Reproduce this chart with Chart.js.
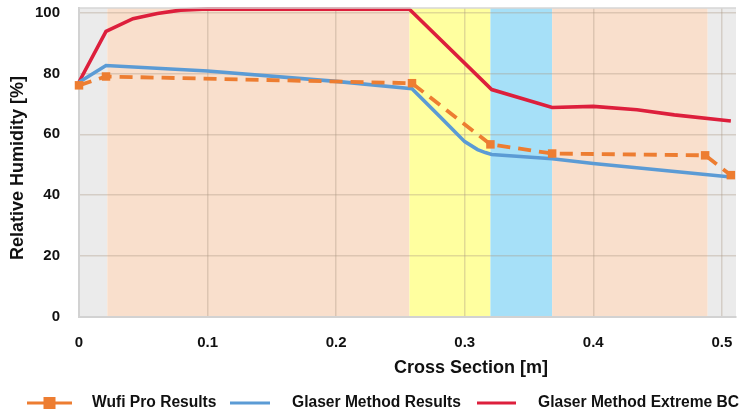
<!DOCTYPE html>
<html><head><meta charset="utf-8">
<script src="https://cdn.jsdelivr.net/npm/chart.js@4.4.1/dist/chart.umd.min.js"></script>
<style>html,body{margin:0;padding:0;background:#fff}canvas{display:block}</style>
</head><body>
<canvas id="c" width="745" height="417"></canvas>
<script>
// ---- data ----
const seriesNames = ['Wufi Pro Results', 'Glaser Method Results', 'Glaser Method Extreme BC'];
const wufiX = [0, 0.021, 0.259, 0.32, 0.368, 0.487, 0.507];
const wufiY = [76.1, 79.0, 76.8, 56.7, 53.7, 53.1, 46.6];
const glaserX = [0, 0.021, 0.1, 0.2, 0.259, 0.281, 0.3, 0.31, 0.316, 0.321, 0.368, 0.4, 0.507];
const glaserY = [77.1, 82.6, 80.8, 77.4, 75.0, 65.7, 57.6, 55.0, 54.0, 53.4, 52.0, 50.4, 46.0];
const extremeX = [0, 0.021, 0.042, 0.061, 0.079, 0.1, 0.257, 0.321, 0.368, 0.4, 0.434, 0.463, 0.507];
const extremeY = [77.2, 93.8, 98.0, 99.7, 100.8, 101.2, 101.1, 74.7, 68.8, 69.2, 68.1, 66.4, 64.4];
const xTicks = [0, 0.1, 0.2, 0.3, 0.4, 0.5];
const yTicks = [0, 20, 40, 60, 80, 100];
const layerEdges = [0, 0.022, 0.257, 0.32, 0.368, 0.489, 0.511];
const xTitle = 'Cross Section [m]';
const yTitle = 'Relative Humidity [%]';

// ---- styles ----
const layerColors = ['#ebebeb', '#f9dfcc', '#ffff9f', '#a6e0f8', '#f9dfcc', '#ebebeb'];
const colors = ['#ed7d31', '#5b9bd5', '#dd1f3c'];
const FONT = '"Liberation Sans", Arial, sans-serif';
const pts = (xs, ys) => xs.map((x, i) => ({x, y: ys[i]}));

const bandPlugin = {
  id: 'bands',
  beforeDraw(chart) {
    const {ctx, chartArea: a, scales: {x}} = chart;
    ctx.save();
    for (let i = 0; i < layerColors.length; i++) {
      const x0 = x.getPixelForValue(layerEdges[i]);
      const x1 = x.getPixelForValue(layerEdges[i + 1]);
      ctx.fillStyle = layerColors[i];
      ctx.fillRect(x0, a.top, x1 - x0, a.bottom - a.top);
    }
    ctx.restore();
  },
  afterDraw(chart) {
    const {ctx, chartArea: a} = chart;
    ctx.save();
    ctx.strokeStyle = '#d6d6d6';
    ctx.lineWidth = 1.5;
    ctx.beginPath(); ctx.moveTo(a.left, a.top); ctx.lineTo(a.right, a.top); ctx.stroke();
    ctx.fillStyle = '#111';
    ctx.font = 'bold 18px ' + FONT;
    ctx.textAlign = 'center'; ctx.textBaseline = 'middle';
    ctx.fillText(xTitle, 471, 368);
    ctx.save();
    ctx.translate(18, 168); ctx.rotate(-Math.PI / 2);
    ctx.fillText(yTitle, 0, 0);
    ctx.restore();
    const items = [
      {x0: 27, x1: 72, tx: 92},
      {x0: 230, x1: 270, tx: 292},
      {x0: 477, x1: 516, tx: 538}
    ];
    const ly = 403;
    ctx.font = 'bold 15.6px ' + FONT;
    ctx.textAlign = 'left';
    items.forEach((it, i) => {
      ctx.strokeStyle = colors[i]; ctx.lineWidth = 3.2;
      ctx.beginPath(); ctx.moveTo(it.x0, ly); ctx.lineTo(it.x1, ly); ctx.stroke();
      if (i === 0) {
        ctx.fillStyle = colors[0];
        const m = (it.x0 + it.x1) / 2;
        ctx.fillRect(m - 6, ly - 6, 12, 12);
      }
      ctx.fillStyle = '#111';
      ctx.fillText(seriesNames[i], it.tx, ly);
    });
    ctx.restore();
  }
};

new Chart(document.getElementById('c'), {
  type: 'line',
  data: {
    datasets: [
      {label: seriesNames[2], data: pts(extremeX, extremeY), borderColor: colors[2], borderWidth: 3.6, pointRadius: 0, tension: 0, order: 3},
      {label: seriesNames[1], data: pts(glaserX, glaserY), borderColor: colors[1], borderWidth: 3.6, pointRadius: 0, tension: 0, order: 2},
      {label: seriesNames[0], data: pts(wufiX, wufiY), borderColor: colors[0], backgroundColor: colors[0], borderWidth: 3.8, borderDash: [13, 8],
       pointStyle: 'rect', pointRadius: 6, pointBorderWidth: 0, pointBackgroundColor: colors[0], tension: 0, order: 1}
    ]
  },
  options: {
    responsive: false,
    devicePixelRatio: 1,
    animation: false,
    clip: false,
    layout: {padding: {top: 8, right: 9, left: 0, bottom: 0}},
    plugins: {legend: {display: false}, tooltip: {enabled: false}},
    scales: {
      x: {
        type: 'linear', min: 0, max: 0.511,
        afterFit(s) { s.height = 100; s.paddingLeft = 0; s.paddingRight = 0; },
        afterBuildTicks(s) { s.ticks = xTicks.map(v => ({value: v})); },
        ticks: {padding: 17, color: '#111', font: {family: FONT, size: 15, weight: 'bold'}, callback: v => String(v), maxRotation: 0, autoSkip: false},
        grid: {color: ctx => ctx.tick && ctx.tick.value === 0 ? 'rgba(0,0,0,0)' : 'rgba(170,150,130,0.35)', lineWidth: 1.5, drawTicks: false},
        border: {display: true, color: '#d2d2d2', width: 2}
      },
      y: {
        type: 'linear', min: 0, max: 101.5,
        afterFit(s) { s.width = 79; s.paddingTop = 0; s.paddingBottom = 0; },
        afterBuildTicks(s) { s.ticks = yTicks.map(v => ({value: v})); },
        ticks: {padding: 19, color: '#111', font: {family: FONT, size: 15, weight: 'bold'}, callback: v => String(v)},
        grid: {color: ctx => ctx.tick && ctx.tick.value === 0 ? 'rgba(0,0,0,0)' : 'rgba(170,150,130,0.35)', lineWidth: 1.5, drawTicks: false},
        border: {display: true, color: '#d2d2d2', width: 2}
      }
    }
  },
  plugins: [bandPlugin]
});
</script>
</body></html>
